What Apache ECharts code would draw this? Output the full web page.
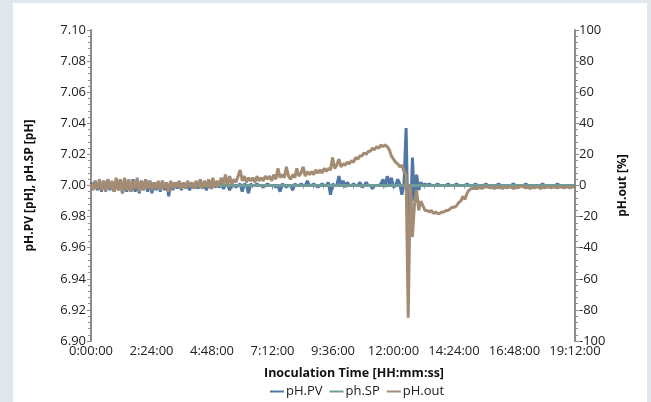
<!DOCTYPE html>
<html>
<head>
<meta charset="utf-8">
<script src="https://cdn.jsdelivr.net/npm/echarts@6/dist/echarts.min.js"></script>
<style>
  html, body { margin: 0; padding: 0; background: #dfe6ec; }
  #main { position: absolute; left: 13px; top: 3px; width: 634px; height: 399px; background: #fff; }
</style>
</head>
<body>
<div id="main"></div>
<script>
// logged every 5 minutes from inoculation
const stepMin = 5;

// pH.PV [pH]
const phPV = [
  7.002, 6.998, 7.003, 6.997, 7.002, 6.996, 7.003, 6.997, 7.004, 6.997,
  7.002, 6.996, 7.003, 6.997, 7.004, 6.995, 7.003, 6.996, 7.002, 6.996,
  7.004, 6.996, 7.002, 6.995, 7.003, 6.997, 7.004, 6.996, 7.003, 6.995,
  7.002, 6.997, 7.002, 6.996, 7.003, 6.997, 7.002, 6.993, 7.002, 6.997,
  7.002, 6.998, 7.002, 6.997, 7.002, 6.998, 7.001, 6.997, 7.002, 6.998,
  7.001, 6.998, 7.002, 6.998, 7.001, 6.997, 7.002, 6.998, 7.001, 6.999,
  7.000, 6.999, 7.001, 6.998, 7.000, 7.001, 6.997, 7.001, 7.000, 6.999,
  7.000, 7.001, 6.996, 7.001, 7.000, 6.995, 7.001, 7.000, 7.000, 7.001,
  7.000, 7.000, 6.999, 7.000, 7.001, 7.000, 7.000, 7.000, 6.999, 7.000,
  6.996, 7.001, 7.000, 6.999, 7.000, 7.000, 6.997, 7.001, 7.000, 7.000,
  7.001, 7.000, 7.000, 7.003, 7.000, 7.000, 7.001, 7.000, 6.999, 7.000,
  7.001, 7.000, 7.000, 7.002, 6.994, 7.001, 7.000, 7.000, 7.006, 7.000,
  7.003, 6.999, 7.002, 7.000, 7.000, 7.001, 7.000, 7.000, 7.002, 6.999,
  7.000, 7.002, 7.000, 7.000, 6.998, 7.000, 7.000, 7.000, 7.001, 7.004,
  6.999, 7.006, 7.001, 7.005, 6.999, 7.000, 7.004, 7.001, 6.994, 7.001,
  7.037, 6.968, 6.972, 7.018, 6.990, 7.007, 6.997, 7.002, 7.000, 7.001,
  7.000, 7.001, 7.000, 7.000, 7.000, 7.001, 7.000, 7.000, 7.000, 7.000,
  7.001, 7.000, 7.000, 7.000, 7.001, 7.000, 7.000, 7.000, 7.000, 7.001,
  7.000, 7.000, 7.000, 7.001, 7.000, 7.000, 7.000, 7.000, 7.001, 7.000,
  7.000, 7.000, 7.000, 7.000, 7.001, 7.000, 7.000, 7.000, 7.000, 7.000,
  7.000, 7.001, 7.000, 7.000, 7.000, 7.000, 7.000, 7.001, 7.000, 7.000,
  7.000, 7.000, 7.000, 7.000, 7.000, 7.001, 7.000, 7.000, 7.000, 7.000,
  7.000, 7.000, 7.001, 7.000, 7.000, 7.000, 7.000, 7.000, 7.000, 7.000,
  7.000
];

// pH.out [%]
const phOut = [
  1, -3, 3, -2, 4, -3, 3, -4, 4, -2,
  3, -4, 5, -3, 4, -5, 5, -3, 4, -4,
  3, -2, 5, -4, 3, -3, 4, -2, 3, -3,
  2, -2, 3, -3, 3, -2, 2, -4, 3, -2,
  2, -1, 3, -2, 2, -2, 3, -1, 2, -2,
  3, -1, 4, -2, 3, -1, 4, -2, 5, -1,
  3, 0, 5, 1, 7, 0, 6, 1, 4, 2,
  6, 10, 3, 6, 2, 5, 3, 5, 2, 6,
  3, 5, 3, 6, 4, 6, 3, 7, 4, 11,
  5, 7, 5, 12, 6, 4, 7, 5, 11, 6,
  8, 12, 6, 9, 7, 9, 7, 10, 8, 10,
  8, 11, 9, 11, 10, 18, 11, 13, 17, 12,
  14, 13, 15, 14, 16, 15, 18, 17, 19, 19,
  21, 20, 22, 22, 24, 23, 25, 24, 26, 25,
  26, 25, 23, 19, 17, 15, 14, 12, 13, 9,
  7, -85, 0, -33, -12, -3, -16, -10, -13, -16,
  -16, -17, -16, -18, -17, -18, -18, -17, -17, -16,
  -16, -15, -14, -14, -13, -11, -10, -7, -9, -5,
  -3, -2, -2, -2, -2, -1, -2, -1, -1, -1,
  -1.5, -1, -2, -1, -1.5, -1, -2, -1, -1.5, -1,
  -1, -2, -1, -1.5, -1, 0, -1, -1.5, -1, -2,
  -1, -1.5, -1, -1, -2, -1, -1.5, -1, -1, -1.5,
  -1, -1, -1.5, -1, -1, -1.5, -1, -1, -1.5, -1,
  -1
];

// ph.SP [pH] - setpoint, constant over the run (minutes)
const spTimes = [0, 1150];
const phSP = [7.0, 7.0];

const xMax = 69120;     // 19:12:00
const xStep = 8640;     // 2:24:00

function toPairs(values) {
  return values.map((v, i) => [i * stepMin * 60, v]);
}

function hms(sec) {
  let h = Math.floor(sec / 3600);
  let m = Math.floor((sec % 3600) / 60);
  let s = Math.round(sec % 60);
  return h + ':' + String(m).padStart(2, '0') + ':' + String(s).padStart(2, '0');
}

const axisGray = '#8c8c8c';
const labelStyle = { color: '#222', fontSize: 13, fontFamily: 'Open Sans' };
const nameStyle = { color: '#111', fontSize: 12, fontWeight: 'bold', fontFamily: 'Open Sans' };

const chart = echarts.init(document.getElementById('main'));
chart.setOption({
  animation: false,
  grid: { left: 78, right: 72, top: 27, bottom: 61 },
  legend: {
    top: 377,
    left: 252,
    itemWidth: 14,
    itemHeight: 2,
    itemGap: 7,
    icon: 'rect',
    textStyle: { color: '#222', fontSize: 13, fontFamily: 'Open Sans', padding: [0, 0, 0, -3] },
    data: ['pH.PV', 'ph.SP', 'pH.out']
  },
  xAxis: {
    type: 'value',
    min: 0,
    max: xMax,
    interval: xStep,
    name: 'Inoculation Time [HH:mm:ss]',
    nameLocation: 'middle',
    nameGap: 26,
    nameTextStyle: Object.assign({}, nameStyle, { fontSize: 12.5, padding: [0, 0, 0, 42] }),
    axisLine: { show: true, lineStyle: { color: axisGray, width: 2 } },
    axisTick: { show: true, length: 4, lineStyle: { color: axisGray } },
    minorTick: { show: true, splitNumber: 6, length: 3, lineStyle: { color: axisGray } },
    splitLine: { show: false },
    axisLabel: Object.assign({ margin: 4, formatter: hms }, labelStyle)
  },
  yAxis: [{
    type: 'value',
    min: 6.9,
    max: 7.1,
    interval: 0.02,
    name: 'pH.PV [pH], pH.SP [pH]',
    nameLocation: 'middle',
    nameRotate: 90,
    nameGap: 55,
    nameTextStyle: nameStyle,
    axisLine: { show: true, lineStyle: { color: axisGray, width: 2 } },
    axisTick: { show: true, length: 4, lineStyle: { color: axisGray } },
    minorTick: { show: true, splitNumber: 5, length: 3, lineStyle: { color: axisGray } },
    splitLine: { show: false },
    axisLabel: Object.assign({ margin: 5, formatter: v => v.toFixed(2) }, labelStyle)
  }, {
    type: 'value',
    position: 'right',
    min: -100,
    max: 100,
    interval: 20,
    name: 'pH.out [%]',
    nameLocation: 'middle',
    nameRotate: 90,
    nameGap: 38,
    nameTextStyle: nameStyle,
    axisLine: { show: true, lineStyle: { color: axisGray, width: 2 } },
    axisTick: { show: true, length: 4, lineStyle: { color: axisGray } },
    minorTick: { show: true, splitNumber: 5, length: 3, lineStyle: { color: axisGray } },
    splitLine: { show: false },
    axisLabel: Object.assign({ margin: 4 }, labelStyle)
  }],
  series: [{
    name: 'pH.PV',
    type: 'line',
    yAxisIndex: 0,
    showSymbol: false,
    color: '#4f76a4',
    lineStyle: { width: 3 },
    data: toPairs(phPV)
  }, {
    name: 'ph.SP',
    type: 'line',
    yAxisIndex: 0,
    showSymbol: false,
    color: '#6d9c9a',
    lineStyle: { width: 3 },
    data: spTimes.map((t, i) => [t * 60, phSP[i]])
  }, {
    name: 'pH.out',
    type: 'line',
    yAxisIndex: 1,
    showSymbol: false,
    color: '#a38c73',
    lineStyle: { width: 3 },
    data: toPairs(phOut)
  }]
});
</script>
</body>
</html>
